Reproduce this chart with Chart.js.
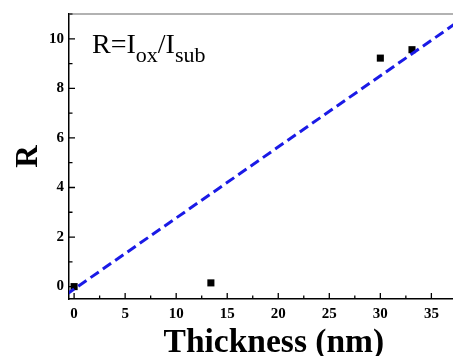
<!doctype html>
<html>

<head>
    <title>R vs Thickness</title>
    <script src="https://cdn.jsdelivr.net/npm/chart.js"></script>
    <style>
        body {
            margin: 0;
            padding: 0;
            width: 453px;
            height: 356px;
            overflow: hidden;
            background-color: #ffffff;
        }

        #grafico {
            display: block;
        }
    </style>
</head>

<body>
    <canvas id="grafico" width="470" height="356"></canvas>

    <script>
        // measured points
        var thickness = [0, 13.4, 30, 33.1];
        var ratio = [0, 0.15, 9.22, 9.56];

        // linear fit (dashed line) end points
        var fitX = [-0.8, 38];
        var fitY = [-0.33, 10.8];

        var xTicks = [0, 5, 10, 15, 20, 25, 30, 35];
        var yTicks = [0, 2, 4, 6, 8, 10];

        var fonte = 'Liberation Serif, Times New Roman, serif';

        // inward ticks, top frame line and the R=Iox/Isub label
        var moldura = {
            id: 'moldura',
            afterDraw(chart) {
                var ctx = chart.ctx;
                var area = chart.chartArea;
                var sx = chart.scales.x;
                var sy = chart.scales.y;
                ctx.save();
                ctx.strokeStyle = '#000';
                ctx.lineWidth = 1.3;
                ctx.beginPath();
                for (var v = 0; v <= 37.5; v += 2.5) {
                    var px = sx.getPixelForValue(v);
                    var len = (v % 5 === 0) ? 6 : 3.5;
                    ctx.moveTo(px, area.bottom);
                    ctx.lineTo(px, area.bottom - len);
                }
                for (var w = 0; w <= 11; w += 1) {
                    var py = sy.getPixelForValue(w);
                    var len2 = (w % 2 === 0) ? 6 : 3.5;
                    ctx.moveTo(area.left, py);
                    ctx.lineTo(area.left + len2, py);
                }
                ctx.stroke();

                ctx.strokeStyle = '#666';
                ctx.lineWidth = 1.2;
                ctx.beginPath();
                ctx.moveTo(area.left, area.top);
                ctx.lineTo(area.right + 20, area.top);
                ctx.stroke();

                ctx.fillStyle = '#000';
                ctx.textBaseline = 'alphabetic';
                var x = 92;
                var partes = [['R=I', 28, 53], ['ox', 22, 62], ['/I', 28, 53], ['sub', 22, 62]];
                partes.forEach(function (p) {
                    ctx.font = p[1] + 'px ' + fonte;
                    ctx.fillText(p[0], x, p[2]);
                    x += ctx.measureText(p[0]).width;
                });
                ctx.restore();
            }
        };

        var grafico = new Chart(document.getElementById('grafico').getContext('2d'), {
            data: {
                datasets: [{
                    type: 'line',
                    label: 'Ajuste',
                    data: fitX.map((x, i) => ({ x: x, y: fitY[i] })),
                    borderColor: '#1a1ae6',
                    borderWidth: 3,
                    borderDash: [10, 5],
                    pointRadius: 0,
                    fill: false
                }, {
                    type: 'scatter',
                    label: 'R',
                    data: thickness.map((x, i) => ({ x: x, y: ratio[i] })),
                    pointStyle: 'rect',
                    pointRadius: 5,
                    pointBackgroundColor: '#000',
                    pointBorderColor: '#000',
                    pointBorderWidth: 0
                }]
            },
            plugins: [moldura],
            options: {
                responsive: false,
                animation: false,
                layout: { padding: { left: 0, top: 13, right: 8, bottom: 0 } },
                plugins: {
                    legend: { display: false },
                    tooltip: { enabled: false }
                },
                scales: {
                    x: {
                        type: 'linear',
                        min: -0.5,
                        max: 38,
                        afterBuildTicks: s => { s.ticks = xTicks.map(v => ({ value: v })); },
                        afterFit: s => { s.height = 57; },
                        grid: { display: false, drawTicks: false },
                        border: { color: '#000', width: 1.5 },
                        ticks: {
                            color: '#000',
                            padding: 6,
                            maxRotation: 0,
                            font: { family: fonte, size: 15, weight: 'bold' }
                        },
                        title: {
                            display: true,
                            text: '\u00a0\u00a0Thickness (nm)',
                            color: '#000',
                            padding: { top: 0, bottom: -7 },
                            font: { family: fonte, size: 33.5, weight: 'bold' }
                        }
                    },
                    y: {
                        type: 'linear',
                        min: -0.5,
                        max: 11,
                        afterBuildTicks: s => { s.ticks = yTicks.map(v => ({ value: v })); },
                        afterFit: s => { s.width = 69; },
                        grid: { display: false, drawTicks: false },
                        border: { color: '#000', width: 1.5 },
                        ticks: {
                            color: '#000',
                            padding: 5,
                            font: { family: fonte, size: 15, weight: 'bold' }
                        },
                        title: {
                            display: true,
                            text: 'R',
                            color: '#000',
                            padding: { top: 10, bottom: 0 },
                            font: { family: fonte, size: 31, weight: 'bold' }
                        }
                    }
                }
            }
        });
    </script>
</body>

</html>
